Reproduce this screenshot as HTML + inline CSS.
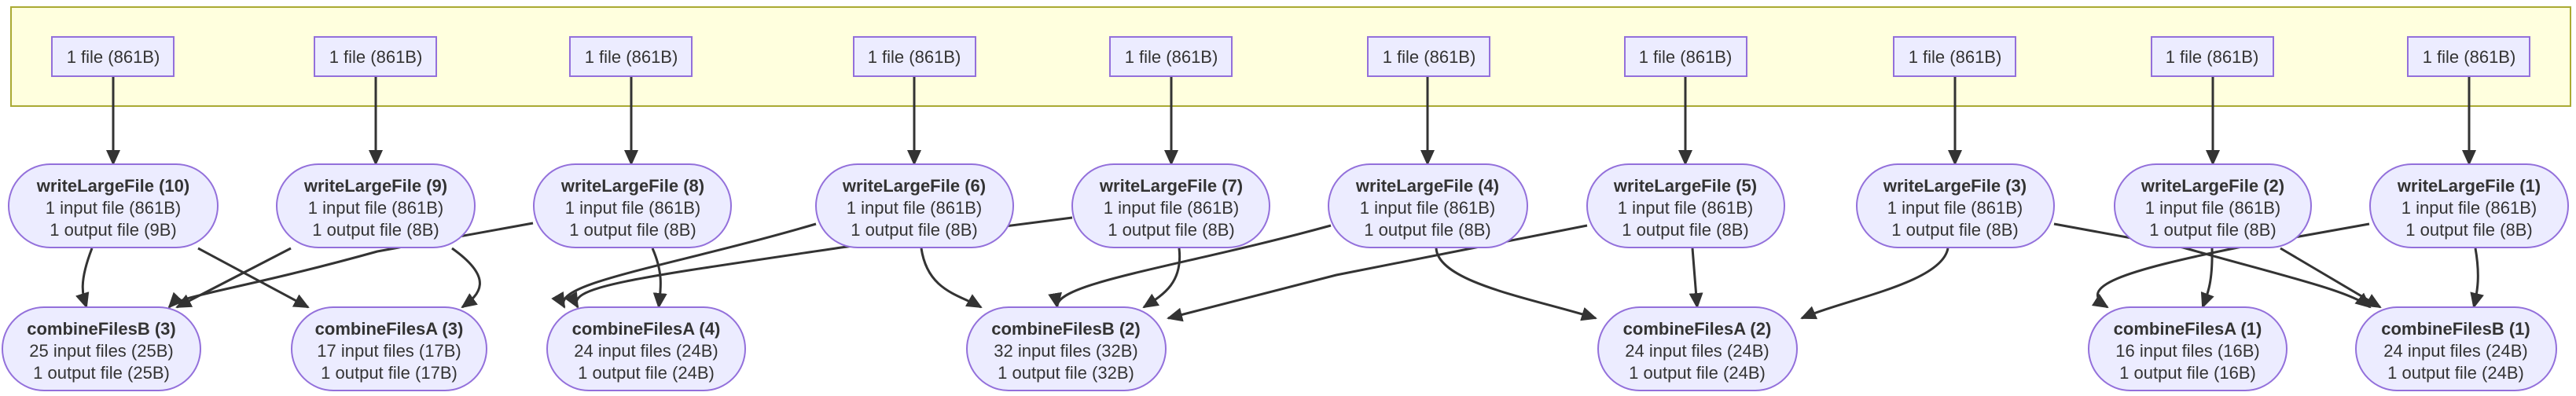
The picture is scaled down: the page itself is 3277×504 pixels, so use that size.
<!DOCTYPE html>
<html><head><meta charset="utf-8"><style>
html,body{margin:0;padding:0;background:#fff;}
svg{display:block;}
text{font-family:"Liberation Sans",sans-serif;fill:#333;text-anchor:middle;font-size:22px;}
.b{font-weight:bold;}
.n{fill:#ECECFF;stroke:#9370DB;stroke-width:2;}
.e{fill:none;stroke:#333;stroke-width:3;}
</style></head><body>
<svg width="3277" height="504" viewBox="0 0 3277 504" xmlns="http://www.w3.org/2000/svg">
<defs><marker id="a" markerUnits="userSpaceOnUse" markerWidth="20" markerHeight="18" refX="18" refY="9" orient="auto"><path d="M0,0 L20,9 L0,18 z" fill="#333"/></marker></defs>
<rect x="14" y="9" width="3256" height="126" fill="#ffffde" stroke="#aaaa33" stroke-width="2"/>
<g class="e" marker-end="url(#a)">
<path d="M144,97 V209"/><path d="M478,97 V209"/><path d="M803,97 V209"/><path d="M1163,97 V209"/><path d="M1490,97 V209"/>
<path d="M1816,97 V209"/><path d="M2144,97 V209"/><path d="M2487,97 V209"/><path d="M2815,97 V209"/><path d="M3141,97 V209"/>
<path d="M117,316 C100,360 105,375 110,391"/>
<path d="M252,316 L392,391"/>
<path d="M370,316 L225,391"/>
<path d="M575,316 C630,355 610,375 588,391"/>
<path d="M678,284 L480,320 C300,370 230,375 215,391"/>
<path d="M830,316 C845,350 840,370 838,391"/>
<path d="M1038,285 C850,340 700,360 718,391"/>
<path d="M1364,277 L1070,315 C800,355 720,365 735,391"/>
<path d="M1172,316 C1180,370 1220,375 1248,391"/>
<path d="M1500,316 C1505,360 1480,375 1455,391"/>
<path d="M1693,287 C1500,340 1340,360 1345,391"/>
<path d="M2019,287 L1700,350 L1486,405"/>
<path d="M1827,316 C1830,360 1950,380 2030,405"/>
<path d="M2153,316 L2159,391"/>
<path d="M2478,316 C2470,360 2350,380 2292,405"/>
<path d="M2613,285 L2777,315 C2900,350 2990,370 3015,391"/>
<path d="M2901,316 L3028,391"/>
<path d="M2814,316 C2815,360 2808,375 2802,391"/>
<path d="M3014,285 L2847,315 C2700,345 2640,365 2681,391"/>
<path d="M3149,316 C3155,350 3152,370 3147,391"/>
</g>
<g>
<rect class="n" x="66" y="47" width="155" height="50"/><text x="144" y="80">1 file (861B)</text>
<rect class="n" x="400" y="47" width="155" height="50"/><text x="478" y="80">1 file (861B)</text>
<rect class="n" x="725" y="47" width="155" height="50"/><text x="803" y="80">1 file (861B)</text>
<rect class="n" x="1086" y="47" width="155" height="50"/><text x="1163" y="80">1 file (861B)</text>
<rect class="n" x="1412" y="47" width="155" height="50"/><text x="1490" y="80">1 file (861B)</text>
<rect class="n" x="1740" y="47" width="155" height="50"/><text x="1818" y="80">1 file (861B)</text>
<rect class="n" x="2067" y="47" width="155" height="50"/><text x="2144" y="80">1 file (861B)</text>
<rect class="n" x="2409" y="47" width="155" height="50"/><text x="2487" y="80">1 file (861B)</text>
<rect class="n" x="2737" y="47" width="155" height="50"/><text x="2814" y="80">1 file (861B)</text>
<rect class="n" x="3063" y="47" width="155" height="50"/><text x="3141" y="80">1 file (861B)</text>
</g>
<g>
<rect class="n" x="11" y="209" width="266" height="106" rx="53"/><text class="b" x="144" y="244">writeLargeFile (10)</text><text x="144" y="272">1 input file (861B)</text><text x="144" y="300">1 output file (9B)</text>
<rect class="n" x="352" y="209" width="252" height="106" rx="53"/><text class="b" x="478" y="244">writeLargeFile (9)</text><text x="478" y="272">1 input file (861B)</text><text x="478" y="300">1 output file (8B)</text>
<rect class="n" x="679" y="209" width="251" height="106" rx="53"/><text class="b" x="805" y="244">writeLargeFile (8)</text><text x="805" y="272">1 input file (861B)</text><text x="805" y="300">1 output file (8B)</text>
<rect class="n" x="1038" y="209" width="251" height="106" rx="53"/><text class="b" x="1163" y="244">writeLargeFile (6)</text><text x="1163" y="272">1 input file (861B)</text><text x="1163" y="300">1 output file (8B)</text>
<rect class="n" x="1364" y="209" width="251" height="106" rx="53"/><text class="b" x="1490" y="244">writeLargeFile (7)</text><text x="1490" y="272">1 input file (861B)</text><text x="1490" y="300">1 output file (8B)</text>
<rect class="n" x="1690" y="209" width="253" height="106" rx="53"/><text class="b" x="1816" y="244">writeLargeFile (4)</text><text x="1816" y="272">1 input file (861B)</text><text x="1816" y="300">1 output file (8B)</text>
<rect class="n" x="2019" y="209" width="251" height="106" rx="53"/><text class="b" x="2144" y="244">writeLargeFile (5)</text><text x="2144" y="272">1 input file (861B)</text><text x="2144" y="300">1 output file (8B)</text>
<rect class="n" x="2362" y="209" width="251" height="106" rx="53"/><text class="b" x="2487" y="244">writeLargeFile (3)</text><text x="2487" y="272">1 input file (861B)</text><text x="2487" y="300">1 output file (8B)</text>
<rect class="n" x="2690" y="209" width="250" height="106" rx="53"/><text class="b" x="2815" y="244">writeLargeFile (2)</text><text x="2815" y="272">1 input file (861B)</text><text x="2815" y="300">1 output file (8B)</text>
<rect class="n" x="3015" y="209" width="252" height="106" rx="53"/><text class="b" x="3141" y="244">writeLargeFile (1)</text><text x="3141" y="272">1 input file (861B)</text><text x="3141" y="300">1 output file (8B)</text>
</g>
<g>
<rect class="n" x="3" y="391" width="252" height="106" rx="53"/><text class="b" x="129" y="426">combineFilesB (3)</text><text x="129" y="454">25 input files (25B)</text><text x="129" y="482">1 output file (25B)</text>
<rect class="n" x="371" y="391" width="248" height="106" rx="53"/><text class="b" x="495" y="426">combineFilesA (3)</text><text x="495" y="454">17 input files (17B)</text><text x="495" y="482">1 output file (17B)</text>
<rect class="n" x="696" y="391" width="252" height="106" rx="53"/><text class="b" x="822" y="426">combineFilesA (4)</text><text x="822" y="454">24 input files (24B)</text><text x="822" y="482">1 output file (24B)</text>
<rect class="n" x="1230" y="391" width="253" height="106" rx="53"/><text class="b" x="1356" y="426">combineFilesB (2)</text><text x="1356" y="454">32 input files (32B)</text><text x="1356" y="482">1 output file (32B)</text>
<rect class="n" x="2033" y="391" width="253" height="106" rx="53"/><text class="b" x="2159" y="426">combineFilesA (2)</text><text x="2159" y="454">24 input files (24B)</text><text x="2159" y="482">1 output file (24B)</text>
<rect class="n" x="2657" y="391" width="252" height="106" rx="53"/><text class="b" x="2783" y="426">combineFilesA (1)</text><text x="2783" y="454">16 input files (16B)</text><text x="2783" y="482">1 output file (16B)</text>
<rect class="n" x="2997" y="391" width="255" height="106" rx="53"/><text class="b" x="3124" y="426">combineFilesB (1)</text><text x="3124" y="454">24 input files (24B)</text><text x="3124" y="482">1 output file (24B)</text>
</g>
</svg>
</body></html>
